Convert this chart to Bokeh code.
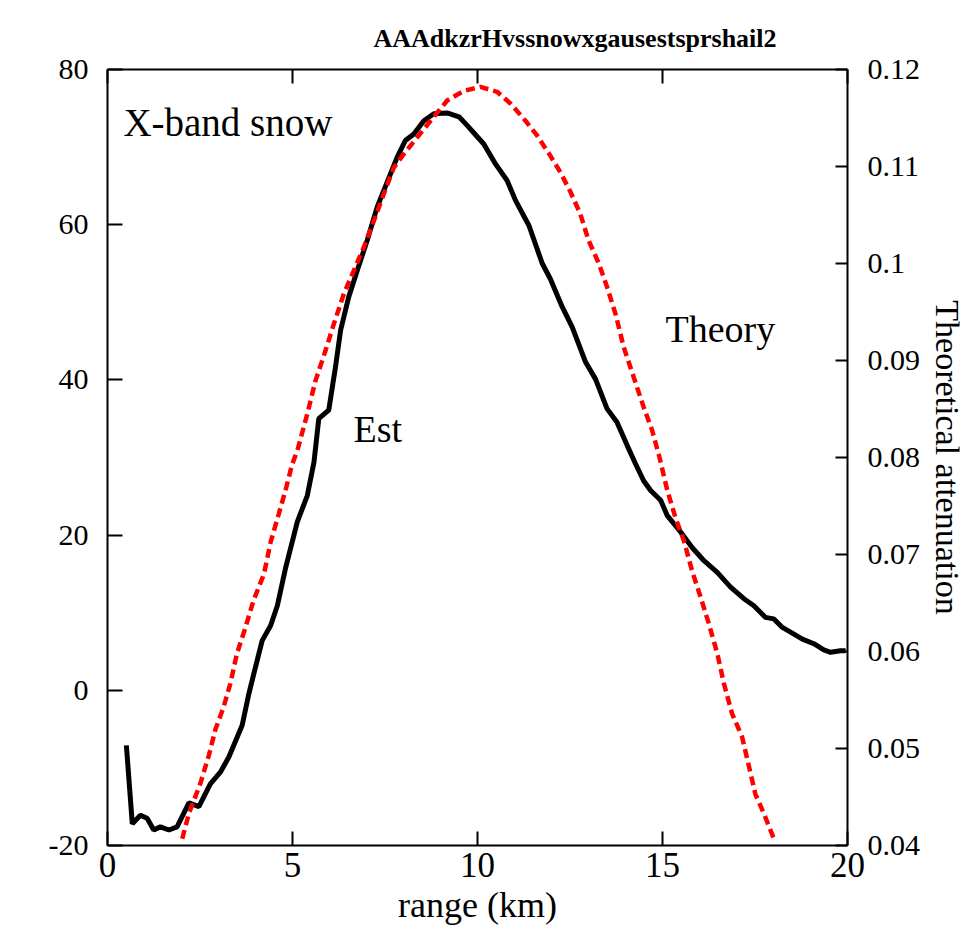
from bokeh.plotting import figure
from bokeh.models import Range1d, LinearAxis, Label, FixedTicker, CustomJSTickFormatter
from bokeh.embed import file_html
from bokeh.resources import INLINE

# ---- data ----
est_x = [0.51, 0.67, 0.89, 1.07, 1.25, 1.43, 1.66, 1.88, 2.20, 2.47, 2.78, 3.05, 3.28, 3.64,
         3.82, 4.00, 4.18, 4.41, 4.59, 4.81, 5.13, 5.40, 5.58, 5.71, 5.98, 6.16, 6.30, 6.52,
         6.75, 7.02, 7.29, 7.56, 7.83, 8.05, 8.28, 8.55, 8.82, 9.18, 9.50, 9.72, 10.00, 10.17,
         10.49, 10.80, 11.03, 11.39, 11.75, 11.97, 12.29, 12.56, 12.92, 13.19, 13.50, 13.77,
         14.05, 14.27, 14.49, 14.68, 14.95, 15.13, 15.49, 15.80, 16.12, 16.48, 16.84, 17.20,
         17.47, 17.78, 18.01, 18.24, 18.46, 18.78, 19.09, 19.36, 19.54, 19.81, 19.95]
est_y = [-7.1, -17.2, -16.1, -16.5, -18.0, -17.6, -18.0, -17.6, -14.5, -15.0, -12.05, -10.55,
         -8.6, -4.5, -0.45, 3.0, 6.4, 8.35, 10.9, 15.7, 21.7, 25.1, 29.4, 35.0, 36.1, 41.6,
         46.4, 50.7, 54.1, 58.0, 62.3, 65.5, 68.7, 70.85, 71.7, 73.4, 74.3, 74.4, 73.9, 72.8,
         71.3, 70.4, 67.8, 65.7, 63.1, 59.9, 55.0, 53.0, 49.4, 46.8, 42.3, 40.1, 36.3, 34.55,
         31.5, 29.2, 27.0, 25.75, 24.5, 22.5, 20.4, 18.4, 16.7, 15.2, 13.3, 11.8, 10.9, 9.4,
         9.2, 8.1, 7.5, 6.6, 6.0, 5.2, 4.9, 5.1, 5.1]

theory_x = [2.02, 2.20, 2.51, 2.74, 2.92, 3.14, 3.32, 3.50, 3.73, 3.95, 4.23, 4.41, 4.63,
            4.81, 4.99, 5.13, 5.40, 5.62, 5.89, 6.12, 6.39, 6.66, 6.93, 7.20, 7.47, 7.74,
            8.01, 8.37, 8.73, 9.18, 9.63, 10.08, 10.53, 10.89, 11.30, 11.61, 11.97, 12.24,
            12.51, 12.78, 13.00, 13.28, 13.50, 13.73, 13.95, 14.22, 14.49, 14.72, 14.92,
            15.13, 15.35, 15.58, 15.80, 16.03, 16.25, 16.48, 16.66, 16.88, 17.15, 17.34,
            17.51, 17.74, 18.01]
theory_y = [0.0407, 0.0433, 0.0464, 0.0493, 0.0520, 0.0543, 0.0567, 0.0598, 0.0625, 0.0653,
            0.0680, 0.0713, 0.0742, 0.0766, 0.0793, 0.0807, 0.0845, 0.0879, 0.0910, 0.0938,
            0.0969, 0.0993, 0.1017, 0.1044, 0.1072, 0.1099, 0.1113, 0.1130, 0.1147, 0.1168,
            0.1178, 0.1182, 0.1177, 0.1165, 0.1147, 0.1132, 0.1111, 0.1094, 0.1074, 0.1051,
            0.1024, 0.1000, 0.0976, 0.0948, 0.0914, 0.0883, 0.0852, 0.0828, 0.0800, 0.0766,
            0.0738, 0.0714, 0.0683, 0.0656, 0.0629, 0.0598, 0.0567, 0.0536, 0.0512, 0.0481,
            0.0453, 0.0433, 0.0407]

x_ticks = [0, 5, 10, 15, 20]
x_tick_labels = ["0", "5", "10", "15", "20"]
left_ticks = [-20, 0, 20, 40, 60, 80]
left_tick_labels = ["-20", "0", "20", "40", "60", "80"]
right_ticks = [0.04, 0.05, 0.06, 0.07, 0.08, 0.09, 0.10, 0.11, 0.12]
right_tick_labels = ["0.04", "0.05", "0.06", "0.07", "0.08", "0.09", "0.1", "0.11", "0.12"]

title_text = "AAAdkzrHvssnowxgausestsprshail2"
x_label = "range (km)"
right_label = "Theoretical attenuation"
panel_text = "X-band snow"
est_text = "Est"
theory_text = "Theory"

FONT = "Liberation Serif"

p = figure(width=969, height=936, x_range=Range1d(0, 20), y_range=Range1d(-20, 80),
           output_backend="svg", toolbar_location=None, title=title_text,
           min_border_left=107, min_border_top=69, min_border_right=122, min_border_bottom=91)
p.extra_y_ranges = {"theory": Range1d(0.04, 0.12)}
p.xgrid.visible = False
p.ygrid.visible = False
p.outline_line_color = None
p.background_fill_color = "white"
p.border_fill_color = "white"

p.title.text_font = FONT
p.title.text_font_size = "26px"
p.title.text_font_style = "bold"
p.title.text_color = "black"
p.title.align = "left"
p.title.offset = 266
p.title.standoff = 34

def style_axis(ax, tick_in, size):
    ax.axis_line_color = "black"
    ax.axis_line_width = 2
    ax.major_tick_line_color = "black"
    ax.major_tick_line_width = 2
    ax.major_tick_in = tick_in
    ax.major_tick_out = 0
    ax.minor_tick_line_color = None
    ax.major_label_text_font = FONT
    ax.major_label_text_font_size = size
    ax.major_label_text_color = "black"
    ax.axis_label_text_font = FONT
    ax.axis_label_text_font_style = "normal"
    ax.axis_label_text_color = "black"

xa = p.xaxis[0]
xa.ticker = FixedTicker(ticks=x_ticks)
xa.major_label_overrides = dict(zip(x_ticks, x_tick_labels))
style_axis(xa, 14, "35px")
xa.major_label_standoff = 7
xa.axis_label = x_label
xa.axis_label_text_font_size = "36px"
xa.axis_label_standoff = 5

ya = p.yaxis[0]
ya.ticker = FixedTicker(ticks=left_ticks)
ya.major_label_overrides = dict(zip(left_ticks, left_tick_labels))
style_axis(ya, 15, "30px")
ya.major_label_standoff = 19

top = LinearAxis(ticker=FixedTicker(ticks=x_ticks),
                 formatter=CustomJSTickFormatter(code="return ''"))
style_axis(top, 14, "0px")
top.major_label_standoff = 0
p.add_layout(top, "above")

ra = LinearAxis(y_range_name="theory", ticker=FixedTicker(ticks=right_ticks))
ra.major_label_overrides = dict(zip(right_ticks, right_tick_labels))
style_axis(ra, 12, "30px")
ra.major_label_standoff = 20
ra.axis_label = right_label
ra.axis_label_text_font_size = "34px"
ra.axis_label_standoff = 6
p.add_layout(ra, "right")

p.line(est_x, est_y, line_color="black", line_width=5)
p.line(theory_x, theory_y, y_range_name="theory", line_color="#ff0000",
       line_width=4.5, line_dash="9 5")

def add_label(x, y, text, size):
    p.add_layout(Label(x=x, y=y, text=text, text_font=FONT, text_font_size=size,
                       text_align="left", text_baseline="alphabetic", text_color="black"))

add_label(0.43, 73.2, panel_text, "39px")
add_label(6.65, 33.7, est_text, "38px")
add_label(15.08, 46.6, theory_text, "38px")

open("out.html", "w").write(file_html(p, INLINE))
